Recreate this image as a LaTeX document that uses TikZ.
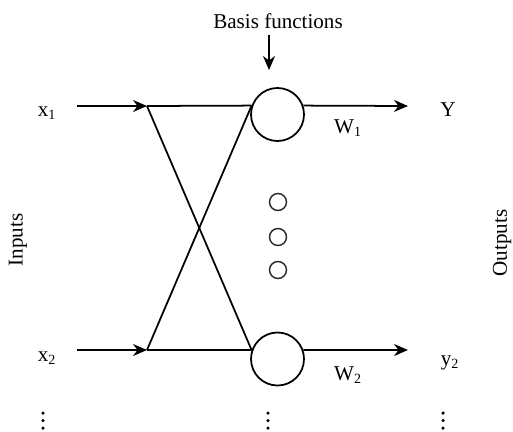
\documentclass[tikz,border=0pt]{standalone}
\usepackage{fontspec}
\setmainfont{Liberation Serif}
\usepackage{tikz}
\usetikzlibrary{arrows.meta}
\tikzset{
  basis/.style={circle,draw=black,line width=1pt,minimum size=10.6mm,inner sep=0pt},
  hidden/.style={circle,draw=black!85,line width=0.8pt,minimum size=3.4mm,inner sep=0pt},
  dot/.style={circle,fill=black,minimum size=0.7mm,inner sep=0pt},
  lbl/.style={font=\fontsize{12}{14}\selectfont,inner sep=0pt},
  link/.style={line width=1pt,black},
  % arrows into the junctions and out of the basis units
  arr/.style={-{Stealth[length=2.8mm,width=2.4mm]},line width=1pt,black},
}
\begin{document}
\begin{tikzpicture}
  \useasboundingbox (0,0) rectangle (10.26,8.62);
  % ---- basis units ----
  \node[basis] (b1) at (5.55,6.33) {};
  \node[basis] (b2) at (5.55,1.44) {};
  \node[hidden] (h1) at (5.56,4.58) {};
  \node[hidden] (h2) at (5.56,3.88) {};
  \node[hidden] (h3) at (5.56,3.22) {};
  % ---- inputs and junctions ----
  \coordinate (in1) at (1.54,6.50);
  \coordinate (in2) at (1.54,1.62);
  \coordinate (j1) at (2.94,6.50);
  \coordinate (j2) at (2.94,1.62);
  \coordinate (out1) at (8.16,6.50);
  \coordinate (out2) at (8.16,1.62);
  \draw[arr] (in1) -- (j1);
  \draw[arr] (in2) -- (j2);
  \draw[link] (j1) -- (b1.161); \draw[link] (j2) -- (b2.161);
  % the crossing connections
  \draw[link] (j1) -- (b2.161); \draw[link] (j2) -- (b1.161);
  \draw[arr] (b1.19) -- (out1);
  \draw[arr] (b2.19) -- (out2);
  % ---- labels ----
  \node[lbl] (lx1) at (0.94,6.36) {x\textsubscript{1}};
  \node[lbl] (lx2) at (0.94,1.46) {x\textsubscript{2}};
  \node[lbl] (ly1) at (8.96,6.42) {Y};
  \node[lbl] (ly2) at (9.00,1.36) {y\textsubscript{2}};
  \node[lbl] (lw1) at (6.96,6.06) {W\textsubscript{1}};
  \node[lbl] (lw2) at (6.96,1.12) {W\textsubscript{2}};
  \node[lbl,rotate=90] (lin) at (0.36,3.82) {Inputs};
  \node[lbl,rotate=90] (lout) at (10.04,3.76) {Outputs};
  \node[lbl] (lbasis) at (5.56,8.20) {Basis functions};
  \coordinate (bt) at (5.38,7.92);
  \coordinate (bb) at (5.38,7.22);
  \draw[arr] (bt) -- (bb);
  % ---- continuation dots ----
  \foreach \c [count=\i] in {0.86,5.36,8.86}
    \foreach \y [count=\k] in {0.36,0.21,0.06}
      \node[dot] (d\i\k) at (\c,\y) {};
\end{tikzpicture}
\end{document}
